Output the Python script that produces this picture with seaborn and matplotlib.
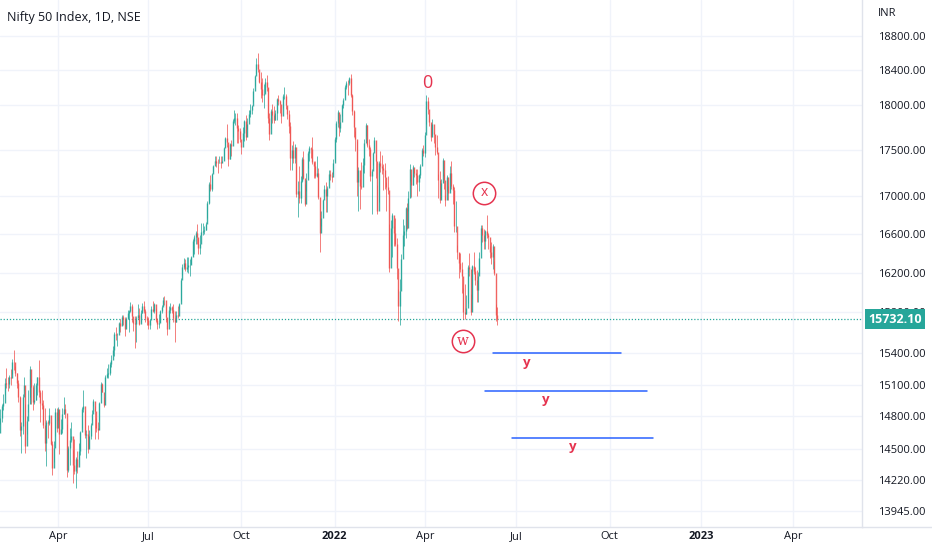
import numpy as np
import pandas as pd
import matplotlib
matplotlib.use("Agg")
import matplotlib.pyplot as plt
import matplotlib.transforms as mtransforms
from matplotlib.lines import Line2D
import seaborn as sns

# NSE trading holidays (weekdays only)
nse_holidays = [
    '2021-01-26', '2021-03-11', '2021-03-29', '2021-04-02', '2021-04-14', '2021-04-21',
    '2021-05-13', '2021-07-21', '2021-08-19', '2021-09-10', '2021-10-15', '2021-11-05',
    '2021-11-19', '2022-01-26', '2022-03-01', '2022-03-18', '2022-04-14', '2022-04-15',
    '2022-05-03', '2022-08-09', '2022-08-15', '2022-08-31', '2022-10-05', '2022-10-26',
    '2022-11-08', '2023-01-26', '2023-03-07', '2023-03-30', '2023-04-04', '2023-04-07',
    '2023-04-14',
]
last_date = '2022-06-14'

# daily closes, Feb 2021 .. 14 Jun 2022 (one row per month)
closes = [
    14281, 14647, 14790, 14896, 14924, 15116, 15109, 15106, 15173, 15163, 15315, 15314, 15209, 15119, 14982, 14676, 14707, 14982, 15097, 14529,
    14761, 14919, 15245, 15081, 14938, 14956, 15099, 15174, 15031, 14929, 14911, 14721, 14558, 14745, 14736, 14815, 14549, 14325, 14507, 14845, 14691,
    14868, 14638, 14684, 14819, 14873, 14835, 14311, 14505, 14581, 14617, 14359, 14297, 14406, 14341, 14485, 14653, 14865, 14895, 14631,
    14634, 14497, 14618, 14725, 14824, 14943, 14851, 14697, 14677, 14923, 15109, 15031, 14906, 15175, 15198, 15208, 15301, 15338, 15436, 15583,
    15575, 15576, 15691, 15670, 15751, 15740, 15635, 15738, 15799, 15812, 15869, 15768, 15691, 15683, 15746, 15773, 15687, 15790, 15860, 15815, 15749, 15722,
    15681, 15722, 15835, 15819, 15880, 15728, 15690, 15693, 15813, 15854, 15924, 15923, 15752, 15632, 15824, 15856, 15824, 15747, 15710, 15779, 15763,
    15885, 16130, 16258, 16295, 16238, 16258, 16280, 16282, 16364, 16529, 16563, 16615, 16569, 16451, 16497, 16625, 16634, 16637, 16705, 16931, 17132,
    17076, 17234, 17324, 17377, 17362, 17353, 17369, 17355, 17380, 17519, 17630, 17585, 17397, 17562, 17546, 17823, 17853, 17855, 17748, 17712, 17618,
    17532, 17691, 17822, 17646, 17790, 17895, 17946, 17992, 18162, 18339, 18477, 18419, 18267, 18179, 18115, 18126, 18268, 18211, 17857, 17672,
    17930, 17889, 17829, 17917, 18069, 18045, 18018, 17874, 18103, 18110, 17999, 17898, 17765, 17417, 17503, 17416, 17537, 17027, 17054, 16983,
    17167, 17401, 17197, 16913, 17177, 17470, 17517, 17512, 17369, 17325, 17221, 17248, 16985, 16614, 16771, 16955, 17073, 17004, 17086, 17233, 17214, 17204, 17354,
    17626, 17805, 17925, 17746, 17812, 18003, 18056, 18212, 18258, 18256, 18309, 18113, 17938, 17757, 17617, 17149, 17278, 17110, 17102, 17340,
    17577, 17780, 17560, 17516, 17214, 17266, 17464, 17606, 17375, 16843, 17352, 17322, 17304, 17276, 17207, 17092, 17063, 16248, 16658, 16794,
    16606, 16498, 16245, 15863, 16013, 16345, 16594, 16630, 16871, 16663, 16976, 17287, 17118, 17316, 17246, 17223, 17153, 17222, 17325, 17498, 17465,
    17670, 18053, 17957, 17807, 17639, 17784, 17675, 17530, 17476, 17174, 16959, 17137, 17393, 17172, 16954, 17201, 17038, 17245, 17103,
    17069, 16678, 16683, 16411, 16302, 16240, 16167, 15809, 15782, 15842, 16259, 16240, 15809, 16266, 16215, 16126, 16026, 16171, 16352, 16662, 16585,
    16523, 16628, 16584, 16570, 16416, 16356, 16478, 16202, 15774, 15732.10,
]
highs = [
    14336, 14731, 14869, 14913, 15015, 15160, 15257, 15168, 15187, 15244, 15340, 15432, 15280, 15212, 15144, 14989, 14750, 15008, 15176, 14919,
    14807, 15052, 15273, 15154, 15093, 15111, 15117, 15176, 15336, 15052, 15051, 14956, 14875, 14771, 14763, 14878, 14753, 14575, 14572, 14877, 14876,
    14884, 14849, 14779, 14879, 14984, 14918, 14728, 14528, 14697, 14749, 14491, 14590, 14424, 14480, 14557, 14667, 14890, 15044, 14855,
    14673, 14723, 14675, 14743, 14864, 14967, 14900, 14782, 14749, 14938, 15125, 15114, 14984, 15190, 15257, 15293, 15320, 15384, 15470, 15606,
    15661, 15599, 15705, 15733, 15774, 15779, 15751, 15752, 15823, 15823, 15901, 15880, 15729, 15763, 15765, 15880, 15840, 15821, 15893, 15916, 15835, 15769,
    15755, 15738, 15862, 15915, 15893, 15848, 15750, 15789, 15820, 15877, 15952, 15962, 15881, 15749, 15865, 15890, 15860, 15882, 15817, 15817, 15862,
    15893, 16146, 16290, 16349, 16336, 16360, 16359, 16338, 16376, 16543, 16589, 16628, 16702, 16548, 16592, 16712, 16712, 16683, 16722, 16951, 17153,
    17225, 17245, 17340, 17430, 17437, 17400, 17430, 17439, 17438, 17532, 17644, 17792, 17558, 17579, 17610, 17843, 17947, 17912, 17913, 17782, 17742,
    17558, 17750, 17833, 17884, 17857, 17942, 18009, 17998, 18197, 18350, 18543, 18604, 18384, 18378, 18314, 18242, 18311, 18343, 18190, 17915,
    17954, 18012, 17988, 17947, 18087, 18113, 18061, 17915, 18124, 18210, 18132, 17983, 17945, 17806, 17553, 17601, 17564, 17355, 17160, 17325,
    17213, 17420, 17490, 17130, 17252, 17484, 17543, 17534, 17640, 17380, 17376, 17439, 17299, 16840, 16837, 16971, 17119, 17155, 17112, 17285, 17286, 17264, 17400,
    17646, 17827, 17945, 17797, 17905, 18017, 18082, 18227, 18272, 18287, 18321, 18351, 18130, 17944, 17707, 17599, 17309, 17183, 17373, 17410,
    17622, 17794, 17781, 17617, 17536, 17295, 17477, 17640, 17454, 17120, 17376, 17491, 17442, 17351, 17352, 17148, 17221, 16705, 16748, 16816,
    16678, 16768, 16556, 16034, 16136, 16397, 16758, 16694, 16888, 16927, 17052, 17344, 17237, 17334, 17291, 17292, 17294, 17235, 17343, 17522, 17559,
    17704, 18115, 18095, 17901, 17788, 17842, 17695, 17580, 17663, 17238, 17275, 17186, 17415, 17238, 17011, 17224, 17110, 17322, 17378,
    17132, 17092, 16946, 16484, 16403, 16404, 16308, 16041, 16084, 15977, 16279, 16400, 15985, 16284, 16415, 16262, 16224, 16205, 16415, 16696, 16691,
    16648, 16646, 16794, 16610, 16474, 16514, 16493, 16324, 15887, 15859,
]
lows = [
    13662, 14469, 14727, 14744, 14864, 15001, 15064, 15041, 15064, 15093, 15200, 15243, 15184, 15071, 14935, 14617, 14467, 14635, 15051, 14467,
    14635, 14839, 14980, 14915, 14863, 14919, 14954, 15001, 14984, 14745, 14865, 14696, 14478, 14350, 14597, 14723, 14535, 14264, 14383, 14617, 14660,
    14757, 14459, 14638, 14650, 14822, 14785, 14248, 14293, 14353, 14560, 14191, 14273, 14151, 14284, 14408, 14446, 14697, 14842, 14602,
    14417, 14462, 14506, 14592, 14765, 14893, 14591, 14660, 14592, 14760, 15004, 15026, 14884, 15032, 15163, 15163, 15194, 15272, 15385, 15375,
    15528, 15469, 15618, 15606, 15679, 15679, 15566, 15659, 15749, 15606, 15803, 15701, 15616, 15451, 15505, 15750, 15673, 15702, 15794, 15792, 15708, 15676,
    15640, 15636, 15768, 15802, 15790, 15704, 15632, 15644, 15705, 15791, 15875, 15873, 15705, 15579, 15697, 15790, 15797, 15701, 15513, 15702, 15744,
    15834, 15915, 16176, 16238, 16218, 16211, 16202, 16162, 16286, 16376, 16396, 16495, 16495, 16395, 16395, 16588, 16589, 16603, 16640, 16765, 16916,
    17056, 17059, 17255, 17366, 17309, 17253, 17364, 17304, 17368, 17395, 17537, 17533, 17327, 17396, 17439, 17644, 17798, 17780, 17576, 17575, 17585,
    17452, 17612, 17597, 17613, 17735, 17841, 17864, 17896, 18037, 18219, 18353, 18377, 18248, 18086, 18034, 17969, 18146, 18166, 17799, 17613,
    17729, 17799, 17799, 17836, 17836, 17999, 17915, 17798, 17968, 18071, 17958, 17849, 17689, 17281, 17281, 17354, 17353, 16986, 16783, 16931,
    16931, 17150, 17181, 16892, 17051, 17308, 17379, 17407, 17346, 17193, 17192, 17200, 16966, 16410, 16688, 16864, 17038, 16834, 16833, 17173, 17178, 17146, 17238,
    17383, 17593, 17750, 17655, 17704, 17879, 17965, 18081, 18179, 18119, 18228, 18091, 17885, 17649, 17486, 16998, 16836, 16866, 17077, 17264,
    17245, 17655, 17535, 17434, 17163, 16810, 17331, 17502, 17190, 16809, 16941, 17255, 17239, 17070, 17079, 16843, 17026, 16203, 16478, 16357,
    16478, 16478, 16133, 15711, 15672, 16137, 16447, 16472, 16556, 16648, 16838, 17160, 16987, 17119, 17200, 17135, 17003, 17052, 17189, 17390, 17435,
    17422, 17791, 17900, 17765, 17600, 17665, 17582, 17443, 17458, 16978, 16925, 16979, 17216, 17073, 16889, 17054, 16958, 17053, 17072,
    16917, 16624, 16623, 16341, 16142, 16203, 15992, 15735, 15740, 15789, 15893, 16164, 15775, 15937, 16186, 16079, 15904, 15903, 16182, 16490, 16518,
    16439, 16444, 16557, 16444, 16347, 16294, 16243, 16172, 15711, 15678,
]

# projected targets drawn on the chart
target_levels = [15400, 15040, 14600]
target_starts = ['2022-06-09', '2022-06-02', '2022-06-28']
target_ends = ['2022-10-14', '2022-11-10', '2022-11-16']
target_label_dates = ['2022-07-12', '2022-07-29', '2022-08-26']

# wave marks
wave_marks = ['0', 'x', 'w']
wave_dates = ['2022-04-05', '2022-06-01', '2022-05-12']
wave_prices = [18257, 17038, 15521]

y_ticks = [13945, 14220, 14500, 14800, 15100, 15400, 15800, 16200, 16600, 17000, 17500, 18000, 18400, 18800]
month_starts = ['2021-04-01', '2021-07-01', '2021-10-01', '2022-01-01', '2022-04-01',
                '2022-07-01', '2022-10-01', '2023-01-01', '2023-04-01']
month_labels = ['Apr', 'Jul', 'Oct', '2022', 'Apr', 'Jul', 'Oct', '2023', 'Apr']

up_col = '#26a69a'
down_col = '#ef5350'
mark_col = '#e5334f'
text_col = '#131722'
grid_col = '#f0f3fa'

sns.set_theme(style="white")
plt.rcParams['font.family'] = ['Open Sans', 'DejaVu Sans']

# bar positions on a trading-day calendar
days = pd.bdate_range('2021-02-01', '2023-06-30', freq='C', holidays=nse_holidays)
def bar_pos(d):
    return days.searchsorted(pd.Timestamp(d))

n = len(closes)
end_pos = bar_pos(last_date)
x = np.arange(end_pos - n + 1, end_pos + 1)
c = np.array(closes, dtype=float)
o = np.concatenate([[c[0]], c[:-1]])
h = np.array(highs, dtype=float)
l = np.array(lows, dtype=float)
up = c >= o
cols = np.where(up, up_col, down_col)

fig = plt.figure(figsize=(9.32, 5.5), dpi=100)
ax = fig.add_axes([0, 23 / 550, 862 / 932, 527 / 550])

tick_pos = [bar_pos(d) for d in month_starts]
ppb = (793 - 58) / (tick_pos[-1] - tick_pos[0])
x_left = tick_pos[0] - 58 / ppb
ax.set_xlim(x_left, x_left + 862 / ppb)
ax.set_yscale('log')
ax.set_ylim(13806, 19231)

for t in y_ticks:
    ax.axhline(t, color=grid_col, lw=1, zorder=0)
for t in tick_pos:
    ax.axvline(t, color=grid_col, lw=1, zorder=0)

# candles
ax.vlines(x, l, h, colors=cols, lw=0.7, alpha=0.75, zorder=2)
ax.vlines(x, np.minimum(o, c), np.maximum(o, c), colors=cols, lw=1.0, alpha=0.9, zorder=3)

# last price line
last_close = closes[-1]
ax.axhline(last_close, color=up_col, lw=0.9, ls=(0, (1, 1.5)), zorder=1)

# target lines
lines_df = pd.DataFrame({
    'x': [bar_pos(d) for pair in zip(target_starts, target_ends) for d in pair],
    'y': [lv for lv in target_levels for _ in range(2)],
    'line': [i for i in range(len(target_levels)) for _ in range(2)],
})
sns.lineplot(data=lines_df, x='x', y='y', units='line', estimator=None,
             color='#2962ff', lw=1.1, ax=ax, zorder=4)
for lv, d in zip(target_levels, target_label_dates):
    ax.text(bar_pos(d), lv * 0.9985, 'y', color=mark_col, fontsize=9.5, fontweight='bold',
            ha='center', va='top', zorder=5)

# wave labels
for m, d, p in zip(wave_marks, wave_dates, wave_prices):
    xp = bar_pos(d)
    if m == '0':
        ax.text(xp, p, m, color=mark_col, fontsize=13, fontweight='medium',
                ha='center', va='center', zorder=5)
    else:
        ax.scatter([xp], [p], s=260, facecolors='white', edgecolors=mark_col, linewidths=1.1, zorder=5)
        fam = ['DejaVu Serif'] if m == 'w' else ['Open Sans', 'DejaVu Sans']
        ax.text(xp, p, m, color=mark_col, fontsize=10, ha='center', va='center',
                family=fam, zorder=6)

# axes styling
ax.set_xlabel('')
ax.set_ylabel('')
ax.yaxis.tick_right()
ax.set_yticks(y_ticks)
ax.set_yticklabels([f'{t:.2f}' for t in y_ticks])
ax.yaxis.set_minor_locator(matplotlib.ticker.NullLocator())
ax.tick_params(axis='y', length=0, pad=11.5, labelsize=8, labelcolor=text_col)
ax.set_xticks(tick_pos)
ax.set_xticklabels(month_labels)
ax.tick_params(axis='x', length=0, pad=3, labelsize=8, labelcolor=text_col)
for lab in ax.get_xticklabels():
    if lab.get_text().startswith('20'):
        lab.set_fontweight('bold')
for s in ['top', 'left']:
    ax.spines[s].set_visible(False)
for s in ['bottom', 'right']:
    ax.spines[s].set_color('#e0e3eb')
    ax.spines[s].set_linewidth(1)
fig.add_artist(Line2D([862 / 932, 1], [23 / 550, 23 / 550], color='#e0e3eb', lw=1))

# last price tag on the price axis
trans = mtransforms.blended_transform_factory(ax.transAxes, ax.transData)
ax.text(1.0 + 6 / 862, last_close, f'{last_close:.2f}', transform=trans, ha='left', va='center',
        color='white', fontsize=9, fontweight='bold', zorder=10, clip_on=False,
        bbox=dict(boxstyle='square,pad=0.28', fc=up_col, ec='none'))

fig.text(7 / 932, 1 - 17 / 550, 'Nifty 50 Index, 1D, NSE', fontsize=9, color=text_col,
         ha='left', va='center')
fig.text(878 / 932, 1 - 14 / 550, 'INR', fontsize=8, color=text_col, ha='left', va='center')

fig.savefig('out.png', dpi=100, facecolor='white')
